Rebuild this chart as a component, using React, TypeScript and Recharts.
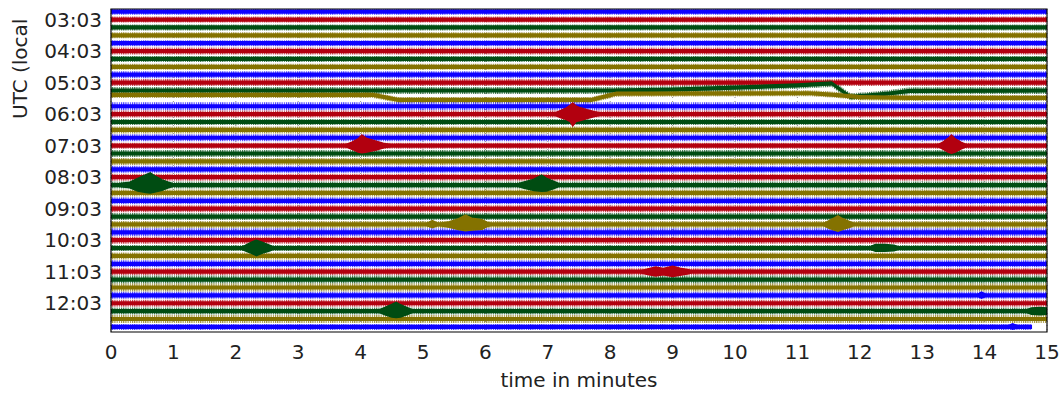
import React from "react";
import {
  ComposedChart,
  Area,
  XAxis,
  YAxis,
  CartesianGrid,
  ReferenceArea,
} from "recharts";

// helicorder: 41 traces of 15 minutes, first one starting 02:48 UTC
const TRACE_COUNT = 41;
const TRACE_COLORS = ["#0E01FF", "#B2000F", "#004C12", "#847200"];

const X_TICKS = [0, 1, 2, 3, 4, 5, 6, 7, 8, 9, 10, 11, 12, 13, 14, 15];
const HOUR_TRACES = [1, 5, 9, 13, 17, 21, 25, 29, 33, 37];
const HOUR_LABELS = ["03:03", "04:03", "05:03", "06:03", "07:03", "08:03", "09:03", "10:03", "11:03", "12:03"];

// background noise thickness of each trace (px)
const NOISE_WIDTH = [
  6, 6, 6, 6, 6, 7, 6, 6, 7, 7, 7, 6, 8, 7, 6, 7, 7, 6, 7, 7, 7,
  7, 7, 7, 7, 7, 7, 7, 8, 7, 6, 7, 7, 7, 8, 8, 7, 7, 7, 8, 6,
];

const LAST_TRACE_END = 14.76;

// long period drift, [minute, offset in trace spacings]
const DRIFT_0518: [number, number][] = [
  [0, 0], [8, 0], [9, 0.1], [10, 0.35], [11, 0.65], [11.55, 0.9],
  [11.85, -0.8], [12.2, -0.6], [12.5, -0.35], [12.8, -0.05], [15, 0],
];
const DRIFT_0533: [number, number][] = [
  [0, 0.43], [4.2, 0.43], [4.6, -0.2], [7.7, -0.2], [8.1, 0.6],
  [11.2, 0.65], [11.6, 0.45], [12.0, 0.15], [12.8, 0.05], [15, 0.05],
];
const DRIFTS: Record<number, [number, number][]> = { 10: DRIFT_0518, 11: DRIFT_0533 };

// quake envelopes, [minute, down, up]
type Env = [number, number, number][];
const EV_0603: Env = [[7.1, 0.1, 0.1], [7.2, 0.45, 0.45], [7.3, 0.7, 0.8], [7.36, 0.95, 1.15], [7.4, 1.5, 1.4], [7.45, 0.95, 1.05], [7.52, 0.8, 0.8], [7.63, 0.55, 0.55], [7.75, 0.3, 0.3], [7.85, 0.1, 0.1]];
const EV_0703_A: Env = [[3.75, 0.1, 0.1], [3.86, 0.45, 0.45], [3.96, 0.8, 0.85], [4.02, 0.9, 1.35], [4.1, 0.8, 0.9], [4.25, 0.55, 0.55], [4.36, 0.3, 0.3], [4.48, 0.1, 0.1]];
const EV_0703_B: Env = [[13.25, 0.1, 0.1], [13.33, 0.45, 0.45], [13.42, 0.85, 0.95], [13.47, 0.95, 1.35], [13.53, 0.8, 0.85], [13.62, 0.45, 0.45], [13.72, 0.1, 0.1]];
const EV_0818_A: Env = [[0.05, 0.1, 0.1], [0.3, 0.35, 0.35], [0.43, 0.75, 0.85], [0.56, 0.95, 1.3], [0.63, 1.0, 1.55], [0.7, 0.9, 1.15], [0.82, 0.65, 0.65], [0.92, 0.35, 0.35], [1.02, 0.1, 0.1]];
const EV_0818_B: Env = [[6.5, 0.1, 0.1], [6.62, 0.4, 0.4], [6.78, 0.7, 0.75], [6.9, 0.8, 1.25], [6.98, 0.75, 0.85], [7.1, 0.45, 0.45], [7.2, 0.1, 0.1]];
const EV_0933_A: Env = [[5.05, 0.1, 0.1], [5.15, 0.4, 0.5], [5.25, 0.1, 0.1], [5.42, 0.35, 0.35], [5.55, 0.6, 0.65], [5.68, 0.8, 1.2], [5.78, 0.7, 0.8], [5.95, 0.6, 0.6], [6.03, 0.25, 0.25], [6.12, 0.05, 0.05]];
const EV_0933_B: Env = [[11.42, 0.1, 0.1], [11.5, 0.45, 0.45], [11.6, 0.75, 0.85], [11.65, 0.85, 1.1], [11.72, 0.65, 0.75], [11.84, 0.35, 0.35], [11.92, 0.05, 0.05]];
const EV_1018_A: Env = [[2.08, 0.1, 0.1], [2.15, 0.35, 0.35], [2.25, 0.65, 0.75], [2.33, 0.95, 1.0], [2.42, 0.65, 0.75], [2.55, 0.35, 0.35], [2.62, 0.1, 0.1]];
const EV_1018_B: Env = [[12.15, 0.1, 0.1], [12.25, 0.4, 0.45], [12.4, 0.4, 0.45], [12.55, 0.35, 0.35], [12.65, 0.05, 0.05]];
const EV_1103: Env = [[8.48, 0.1, 0.1], [8.6, 0.35, 0.35], [8.73, 0.55, 0.6], [8.85, 0.4, 0.4], [9.0, 0.6, 0.7], [9.12, 0.45, 0.45], [9.25, 0.25, 0.25], [9.33, 0.05, 0.05]];
const EV_1218_A: Env = [[4.28, 0.1, 0.1], [4.38, 0.45, 0.45], [4.5, 0.75, 0.85], [4.57, 0.8, 1.1], [4.64, 0.75, 0.8], [4.75, 0.45, 0.45], [4.85, 0.1, 0.1]];
const EV_1218_B: Env = [[14.65, 0.1, 0.1], [14.75, 0.4, 0.4], [14.9, 0.45, 0.45], [15, 0.4, 0.4]];
const EV_1248: Env = [[14.35, 0.05, 0.05], [14.45, 0.3, 0.4], [14.55, 0.05, 0.05]];
const EV_1133: Env = [[13.88, 0.05, 0.05], [13.95, 0.35, 0.4], [14.03, 0.05, 0.05]];

const EVENTS: { trace: number; env: Env }[] = [
  { trace: 13, env: EV_0603 },
  { trace: 17, env: EV_0703_A },
  { trace: 17, env: EV_0703_B },
  { trace: 22, env: EV_0818_A },
  { trace: 22, env: EV_0818_B },
  { trace: 27, env: EV_0933_A },
  { trace: 27, env: EV_0933_B },
  { trace: 30, env: EV_1018_A },
  { trace: 30, env: EV_1018_B },
  { trace: 33, env: EV_1103 },
  { trace: 38, env: EV_1218_A },
  { trace: 38, env: EV_1218_B },
  { trace: 40, env: EV_1248 },
  { trace: 36, env: EV_1133 },
];

const FONT = "'DejaVu Sans', sans-serif";
const SPACING_PX = 7.88; // one trace offset in pixels
const CORE_HALF = 2.1 / SPACING_PX;

const traces = Array.from({ length: TRACE_COUNT }, (_, i) => {
  const pts = DRIFTS[i] ?? [[0, 0], [i === TRACE_COUNT - 1 ? LAST_TRACE_END : 15, 0]];
  const half = NOISE_WIDTH[i] / 2 / SPACING_PX;
  return {
    id: i,
    colorIdx: i % 4,
    data: pts.map(([x, dy]) => {
      const y = -i + dy;
      return { x, core: [y - CORE_HALF, y + CORE_HALF], noise: [y - half, y + half] };
    }),
  };
});

const events = EVENTS.map((e, k) => ({
  id: k,
  color: TRACE_COLORS[e.trace % 4],
  data: e.env.map(([x, down, up]) => ({ x, r: [-e.trace - down, -e.trace + up] })),
}));

const Y_TOP = 0.34;
const Y_BOTTOM = -40.65;

export default function App() {
  return (
    <div style={{ position: "absolute", left: 0, top: 0, background: "#fff" }}>
      <ComposedChart width={1063} height={393} margin={{ top: 9, right: 16, left: 0, bottom: 0 }}>
        <defs>
          {TRACE_COLORS.map((c, k) => (
            <pattern key={c} id={`noise${k}`} patternUnits="userSpaceOnUse" width={2.2} height={10}>
              <rect x={0} y={0} width={1.1} height={10} fill={c} fillOpacity={0.8} />
            </pattern>
          ))}
        </defs>
        <CartesianGrid horizontal={false} stroke="#777" strokeWidth={0.8} strokeDasharray="1 3" />
        <XAxis
          type="number"
          dataKey="x"
          domain={[0, 15]}
          ticks={X_TICKS}
          allowDataOverflow
          axisLine={false}
          tickLine={false}
          tickSize={0}
          tickMargin={13}
          height={61}
          tick={{ fontSize: 20, fill: "#222", fontFamily: FONT }}
          label={{
            content: () => (
              <text x={579} y={387} textAnchor="middle" fontSize={20} fill="#222" fontFamily={FONT}>
                time in minutes
              </text>
            ),
          }}
        />
        <YAxis
          type="number"
          domain={[Y_BOTTOM, Y_TOP]}
          ticks={HOUR_TRACES.map((t) => -t)}
          tickFormatter={(v: number) => HOUR_LABELS[HOUR_TRACES.indexOf(-v)] ?? ""}
          allowDataOverflow
          axisLine={false}
          tickLine={false}
          tickSize={0}
          tickMargin={9}
          width={111}
          tick={{ fontSize: 20, fill: "#222", fontFamily: FONT }}
          label={{
            content: () => (
              <text x={27} y={119} transform="rotate(-90 27 119)" textAnchor="start" fontSize={20} fill="#222" fontFamily={FONT}>
                UTC (local
              </text>
            ),
          }}
        />
        {traces.map((t) => (
          <Area
            key={`n${t.id}`}
            data={t.data}
            dataKey="noise"
            type="linear"
            stroke="none"
            fill={`url(#noise${t.colorIdx})`}
            fillOpacity={1}
            dot={false}
            activeDot={false}
            isAnimationActive={false}
          />
        ))}
        {traces.map((t) => (
          <Area
            key={`c${t.id}`}
            data={t.data}
            dataKey="core"
            type="linear"
            stroke="none"
            fill={TRACE_COLORS[t.colorIdx]}
            fillOpacity={1}
            dot={false}
            activeDot={false}
            isAnimationActive={false}
          />
        ))}
        {events.map((e) => (
          <Area
            key={`e${e.id}`}
            data={e.data}
            dataKey="r"
            type="linear"
            stroke={e.color}
            strokeWidth={1.5}
            fill={e.color}
            fillOpacity={1}
            dot={false}
            activeDot={false}
            isAnimationActive={false}
          />
        ))}
        <ReferenceArea x1={0} x2={15} y1={Y_BOTTOM} y2={Y_TOP} fill="none" stroke="#000" strokeWidth={1.2} ifOverflow="visible" />
      </ComposedChart>
    </div>
  );
}
